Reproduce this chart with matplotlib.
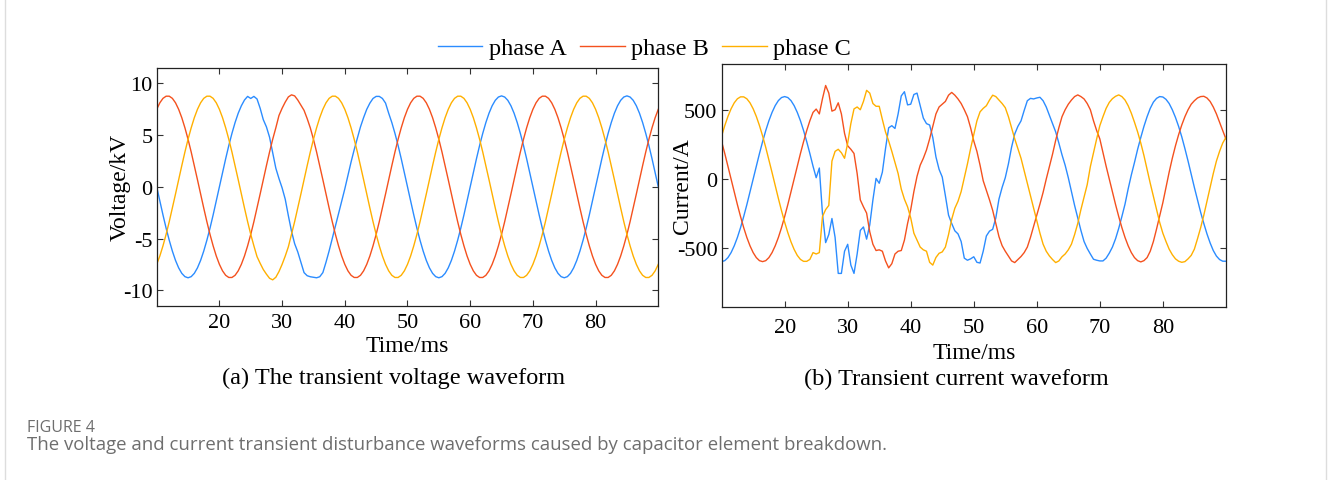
import numpy as np
import matplotlib
matplotlib.use('Agg')
import matplotlib.pyplot as plt

# time axis, ms (0.5 ms step)
time_ms = np.linspace(10, 90, 161)

# voltage, kV
volt_a = [0, -1.38, -2.72, -4.0, -5.17, -6.22, -7.12, -7.84, -8.37, -8.69,
          -8.8, -8.69, -8.37, -7.84, -7.12, -6.22, -5.17, -4.0, -2.72, -1.38,
          0, 1.38, 2.72, 4.0, 5.17, 6.22, 7.12, 7.84, 8.4, 8.75,
          8.55, 8.75, 8.5, 7.6, 6.5, 5.8, 4.8, 3.3, 1.8, 0.8,
          -0.1, -1.2, -2.8, -4.3, -5.5, -6.3, -7.3, -8.3, -8.6, -8.7,
          -8.75, -8.8, -8.7, -8.3, -7.3, -6.2, -5.0, -3.8, -2.6, -1.4,
          -0.2, 1.1, 2.4, 3.6, 4.7, 5.8, 6.7, 7.5, 8.1, 8.55,
          8.75, 8.75, 8.55, 8.1, 7.12, 6.22, 5.17, 4.0, 2.72, 1.38,
          0, -1.38, -2.72, -4.0, -5.17, -6.22, -7.12, -7.84, -8.37, -8.69,
          -8.8, -8.69, -8.37, -7.84, -7.12, -6.22, -5.17, -4.0, -2.72, -1.38,
          0, 1.38, 2.72, 4.0, 5.17, 6.22, 7.12, 7.84, 8.37, 8.69,
          8.8, 8.69, 8.37, 7.84, 7.12, 6.22, 5.17, 4.0, 2.72, 1.38,
          0, -1.38, -2.72, -4.0, -5.17, -6.22, -7.12, -7.84, -8.37, -8.69,
          -8.8, -8.69, -8.37, -7.84, -7.12, -6.22, -5.17, -4.0, -2.72, -1.38,
          0, 1.38, 2.72, 4.0, 5.17, 6.22, 7.12, 7.84, 8.37, 8.69,
          8.8, 8.69, 8.37, 7.84, 7.12, 6.22, 5.17, 4.0, 2.72, 1.38,
          0]
volt_b = [7.50, 8.13, 8.56, 8.77, 8.77, 8.56, 8.13, 7.50, 6.69, 5.71,
          4.60, 3.37, 2.05, 0.69, -0.69, -2.05, -3.37, -4.60, -5.71, -6.69,
          -7.50, -8.13, -8.56, -8.77, -8.77, -8.56, -8.13, -7.50, -6.69, -5.71,
          -4.60, -3.37, -2.05, -0.69, 0.69, 2.05, 3.37, 4.60, 5.71, 6.9,
          7.6, 8.2, 8.7, 8.9, 8.8, 8.4, 7.9, 7.4, 6.6, 5.7,
          4.60, 3.37, 2.05, 0.69, -0.69, -2.05, -3.37, -4.60, -5.71, -6.69,
          -7.50, -8.13, -8.56, -8.77, -8.77, -8.56, -8.13, -7.50, -6.69, -5.71,
          -4.60, -3.37, -2.05, -0.69, 0.69, 2.05, 3.37, 4.60, 5.71, 6.69,
          7.50, 8.13, 8.56, 8.77, 8.77, 8.56, 8.13, 7.50, 6.69, 5.71,
          4.60, 3.37, 2.05, 0.69, -0.69, -2.05, -3.37, -4.60, -5.71, -6.69,
          -7.50, -8.13, -8.56, -8.77, -8.77, -8.56, -8.13, -7.50, -6.69, -5.71,
          -4.60, -3.37, -2.05, -0.69, 0.69, 2.05, 3.37, 4.60, 5.71, 6.69,
          7.50, 8.13, 8.56, 8.77, 8.77, 8.56, 8.13, 7.50, 6.69, 5.71,
          4.60, 3.37, 2.05, 0.69, -0.69, -2.05, -3.37, -4.60, -5.71, -6.69,
          -7.50, -8.13, -8.56, -8.77, -8.77, -8.56, -8.13, -7.50, -6.69, -5.71,
          -4.60, -3.37, -2.05, -0.69, 0.69, 2.05, 3.37, 4.60, 5.71, 6.69,
          7.50]
volt_c = [-7.50, -6.69, -5.71, -4.60, -3.37, -2.05, -0.69, 0.69, 2.05, 3.37,
          4.60, 5.71, 6.69, 7.50, 8.13, 8.56, 8.77, 8.77, 8.56, 8.13,
          7.50, 6.69, 5.71, 4.60, 3.37, 2.05, 0.69, -0.69, -2.05, -3.37,
          -4.60, -5.71, -6.75, -7.4, -8.0, -8.45, -8.85, -9.0, -8.75, -8.2,
          -7.5, -6.7, -5.8, -4.60, -3.37, -2.05, -0.69, 0.69, 2.05, 3.37,
          4.60, 5.71, 6.69, 7.50, 8.13, 8.56, 8.77, 8.77, 8.56, 8.13,
          7.50, 6.69, 5.71, 4.60, 3.37, 2.05, 0.69, -0.69, -2.05, -3.37,
          -4.60, -5.71, -6.69, -7.50, -8.13, -8.56, -8.77, -8.77, -8.56, -8.13,
          -7.50, -6.69, -5.71, -4.60, -3.37, -2.05, -0.69, 0.69, 2.05, 3.37,
          4.60, 5.71, 6.69, 7.50, 8.13, 8.56, 8.77, 8.77, 8.56, 8.13,
          7.50, 6.69, 5.71, 4.60, 3.37, 2.05, 0.69, -0.69, -2.05, -3.37,
          -4.60, -5.71, -6.69, -7.50, -8.13, -8.56, -8.77, -8.77, -8.56, -8.13,
          -7.50, -6.69, -5.71, -4.60, -3.37, -2.05, -0.69, 0.69, 2.05, 3.37,
          4.60, 5.71, 6.69, 7.50, 8.13, 8.56, 8.77, 8.77, 8.56, 8.13,
          7.50, 6.69, 5.71, 4.60, 3.37, 2.05, 0.69, -0.69, -2.05, -3.37,
          -4.60, -5.71, -6.69, -7.50, -8.13, -8.56, -8.77, -8.77, -8.56, -8.13,
          -7.50]

# current, A
curr_a = [-595, -588, -566, -530, -481, -421, -350, -270, -184, -93,
          0, 93, 184, 270, 350, 421, 481, 530, 566, 588,
          595, 588, 566, 530, 481, 421, 350, 270, 184, 93,
          10, 80, -250, -458, -400, -284, -420, -680, -680, -520,
          -470, -620, -680, -540, -370, -345, -433, -330, -150, 5,
          -30, 50, 220, 370, 385, 365, 470, 600, 630, 535,
          540, 610, 620, 530, 440, 400, 390, 300, 160, 70,
          15, -120, -260, -320, -373, -395, -450, -570, -585, -575,
          -560, -600, -605, -520, -410, -375, -362, -280, -144, -60,
          10, 110, 230, 325, 380, 420, 495, 565, 582, 578,
          585, 590, 565, 520, 460, 400, 340, 260, 175, 100,
          10, -90, -190, -280, -370, -450, -500, -540, -578, -585,
          -590, -590, -570, -534, -490, -430, -355, -270, -180, -70,
          30, 120, 215, 300, 380, 450, 510, 555, 582, 595,
          592, 575, 545, 500, 445, 380, 305, 220, 130, 35,
          -60, -150, -240, -320, -395, -460, -515, -555, -580, -592,
          -592]
curr_b = [270, 184, 93, 0, -93, -184, -270, -350, -421, -481,
          -530, -566, -588, -595, -588, -566, -530, -481, -421, -350,
          -270, -184, -93, 0, 93, 184, 270, 350, 421, 481,
          505, 470, 580, 675, 620, 490, 500, 550, 470, 330,
          240, 215, 185, 40, -150, -200, -245, -380, -470, -515,
          -510, -520, -590, -640, -610, -540, -520, -515, -440, -320,
          -220, -90, 20, 100, 150, 210, 290, 380, 470, 520,
          540, 560, 605, 625, 605, 578, 545, 500, 450, 370,
          275, 200, 100, -12, -80, -150, -225, -320, -415, -480,
          -520, -555, -590, -602, -580, -558, -530, -490, -420, -340,
          -260, -180, -96, 0, 90, 180, 280, 370, 450, 500,
          540, 570, 595, 607, 595, 578, 545, 500, 420, 350,
          290, 190, 93, 0, -93, -184, -270, -350, -421, -481,
          -530, -566, -588, -597, -588, -566, -520, -450, -360, -265,
          -170, -60, 50, 150, 240, 320, 390, 450, 500, 540,
          565, 585, 595, 597, 585, 560, 520, 470, 410, 350,
          290]
curr_c = [311, 386, 452, 507, 550, 579, 593, 593, 579, 550,
          507, 452, 386, 311, 228, 139, 47, -47, -139, -228,
          -311, -386, -452, -507, -550, -579, -593, -593, -579, -530,
          -540, -530, -270, -220, -190, 130, 200, 215, 190, 150,
          260, 400, 506, 520, 500, 560, 640, 620, 545, 525,
          525, 430, 340, 275, 200, 120, 40, -72, -145, -200,
          -280, -390, -440, -490, -510, -520, -600, -620, -565, -535,
          -525, -490, -400, -290, -210, -160, -90, 10, 110, 220,
          320, 420, 485, 510, 529, 570, 605, 595, 570, 545,
          515, 450, 370, 290, 220, 150, 60, -30, -120, -210,
          -300, -390, -469, -520, -554, -580, -602, -590, -560, -540,
          -510, -469, -400, -320, -220, -130, -40, 90, 190, 290,
          385, 450, 510, 553, 580, 597, 607, 595, 570, 529,
          475, 410, 340, 260, 170, 70, -30, -125, -220, -313,
          -390, -450, -505, -545, -575, -592, -600, -595, -575, -550,
          -505, -430, -350, -260, -160, -60, 40, 130, 200, 260,
          300]

phase_names = ['phase A', 'phase B', 'phase C']
colors = ['#2B8CFF', '#F4511E', '#FFB000']
x_ticks = [20, 30, 40, 50, 60, 70, 80]

plt.rcParams['font.family'] = ['Liberation Serif', 'DejaVu Serif']
plt.rcParams['axes.unicode_minus'] = False

fig = plt.figure(figsize=(13.28, 4.81), dpi=100)

ax1 = fig.add_axes([0.118, 0.3624, 0.3777, 0.4942])
ax2 = fig.add_axes([0.5434, 0.3603, 0.3797, 0.5046])

lines = []
for vals, name, col in zip([volt_a, volt_b, volt_c], phase_names, colors):
    ln, = ax1.plot(time_ms, vals, color=col, lw=1.0, label=name)
    lines.append(ln)
for vals, col in zip([curr_a, curr_b, curr_c], colors):
    ax2.plot(time_ms, vals, color=col, lw=1.0)

ax1.set_xlim(10, 90)
ax1.set_ylim(-11.5, 11.5)
ax1.set_yticks([-10, -5, 0, 5, 10])
ax2.set_xlim(10, 90)
ax2.set_ylim(-920, 830)
ax2.set_yticks([-500, 0, 500])

for ax in (ax1, ax2):
    ax.set_xticks(x_ticks)
    ax.tick_params(direction='in', top=True, right=True, length=4, width=0.8,
                   labelsize=16, pad=3, color='#333333')
    for sp in ax.spines.values():
        sp.set_linewidth(0.9)
        sp.set_color('#222222')
    ax.set_xlabel('Time/ms', fontsize=17)

ax1.tick_params(axis='x', pad=5)
ax2.tick_params(axis='x', pad=8)

ax1.set_ylabel('Voltage/kV', fontsize=17)
ax2.set_ylabel('Current/A', fontsize=17)
ax1.yaxis.set_label_coords(-0.052, 0.5)
ax2.yaxis.set_label_coords(-0.056, 0.5)
ax1.xaxis.set_label_coords(0.5, -0.125)
ax2.xaxis.set_label_coords(0.5, -0.145)

fig.legend(handles=lines, labels=phase_names, loc='center', ncol=3,
           bbox_to_anchor=(0.485, 0.898), frameon=False, fontsize=17.5,
           handlelength=1.85, columnspacing=0.55, handletextpad=0.25)

fig.text(0.296, 1 - 378 / 481, '(a) The transient voltage waveform',
         ha='center', va='center', fontsize=17.5)
fig.text(0.7205, 1 - 379 / 481, '(b) Transient current waveform',
         ha='center', va='center', fontsize=17.5)

fig.text(27 / 1328, 1 - 428 / 481, 'FIGURE 4', ha='left', va='center',
         fontsize=11.5, color='#6e6e6e', family=['Open Sans', 'DejaVu Sans'])
fig.text(27 / 1328, 1 - 445 / 481,
         'The voltage and current transient disturbance waveforms caused by capacitor element breakdown.',
         ha='left', va='center', fontsize=13.4, color='#6e6e6e',
         family=['Open Sans', 'DejaVu Sans'])

# light frame around the figure panel
fig.add_artist(plt.Line2D([5 / 1328, 5 / 1328], [0, 1], color='#dddddd', lw=1))
fig.add_artist(plt.Line2D([1326 / 1328, 1326 / 1328], [0, 1], color='#dddddd', lw=1))

fig.savefig('out.png', dpi=100)
